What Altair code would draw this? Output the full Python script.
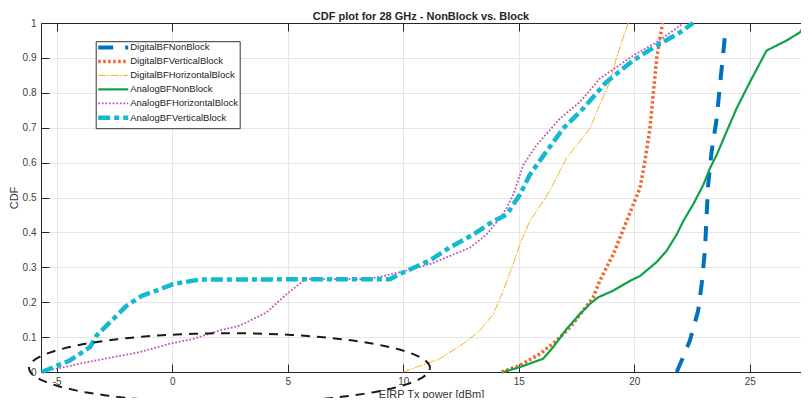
import altair as alt
import pandas as pd

series = ["DigitalBFNonBlock", "DigitalBFVerticalBlock", "DigitalBFHorizontalBlock",
          "AnalogBFNonBlock", "AnalogBFHorizontalBlock", "AnalogBFVerticalBlock"]
colors = ["#0072BD", "#F26430", "#F7B022", "#0FA24A", "#C256B6", "#12B9CF"]
dashes = [[15, 12], [2.5, 2.5], [8, 1.5, 1.5, 1.5], [1, 0], [1.8, 1.8], [12, 4, 5, 4]]
widths = [4, 3.5, 1, 2.2, 1.8, 4.5]

dbf_nonblock_x = [21.84, 22.1, 22.41, 22.77, 22.92, 23.06, 23.13, 23.2, 23.35, 23.57, 23.71, 23.86, 23.95]
dbf_nonblock_y = [0.0, 0.04, 0.09, 0.176, 0.252, 0.347, 0.442, 0.536, 0.632, 0.726, 0.821, 0.917, 0.98]

dbf_vert_x = [14.26, 15.05, 15.92, 16.64, 17.22, 17.79, 18.23, 18.5, 19.09, 19.5, 19.96, 20.25,
              20.46, 20.68, 20.82, 20.97, 21.11, 21.23]
dbf_vert_y = [0.0, 0.019, 0.052, 0.09, 0.128, 0.176, 0.214, 0.26, 0.337, 0.404, 0.48, 0.527,
              0.603, 0.698, 0.793, 0.897, 0.954, 1.0]

dbf_horiz_x = [10.0, 11.59, 12.6, 13.32, 13.9, 14.33, 14.76, 15.05, 15.48, 16.06, 16.35, 17.07,
               18.08, 18.5, 18.94, 19.22, 19.5, 19.74]
dbf_horiz_y = [0.0, 0.038, 0.081, 0.119, 0.166, 0.233, 0.309, 0.366, 0.432, 0.489, 0.52, 0.613,
               0.698, 0.764, 0.831, 0.897, 0.954, 1.0]

abf_nonblock_x = [14.33, 15.05, 16.06, 16.49, 17.07, 17.65, 18.08, 18.44, 19.09, 19.81, 20.25,
                  20.97, 21.4, 21.84, 22.12, 22.55, 22.99, 23.28, 23.57, 24.0, 24.43, 25.01,
                  25.73, 26.6, 27.17, 27.46]
abf_nonblock_y = [0.0, 0.014, 0.038, 0.071, 0.123, 0.166, 0.195, 0.214, 0.233, 0.261, 0.275,
                  0.315, 0.347, 0.394, 0.432, 0.48, 0.536, 0.584, 0.622, 0.689, 0.755, 0.831,
                  0.921, 0.95, 0.973, 1.0]

abf_horiz_x = [-5.65, -3.7, -1.4, -0.1, 0.91, 2.06, 2.93, 4.09, 4.95, 5.67, 5.82, 8.42, 9.13,
               10.0, 11.16, 12.0, 12.89, 13.61, 14.19, 14.48, 14.76, 15.2, 15.77, 16.78, 17.65,
               18.5, 19.96, 20.97, 21.98, 22.12]
abf_horiz_y = [0.0, 0.028, 0.057, 0.081, 0.095, 0.119, 0.133, 0.171, 0.223, 0.261, 0.266, 0.266,
               0.275, 0.288, 0.309, 0.332, 0.356, 0.394, 0.442, 0.47, 0.508, 0.593, 0.65, 0.726,
               0.774, 0.84, 0.907, 0.945, 0.992, 1.0]

abf_vert_x = [-5.65, -4.43, -3.56, -3.27, -1.97, -1.32, -0.53, 0.04, 1.2, 9.42, 10.0, 11.16,
              12.0, 13.03, 13.9, 14.48, 15.05, 15.48, 16.2, 16.93, 17.79, 18.8, 19.96, 20.97,
              21.98, 22.55]
abf_vert_y = [0.0, 0.033, 0.071, 0.105, 0.19, 0.218, 0.237, 0.252, 0.265, 0.266, 0.285, 0.32,
              0.356, 0.394, 0.432, 0.451, 0.508, 0.565, 0.632, 0.698, 0.755, 0.831, 0.893,
              0.935, 0.973, 1.0]

x_ticks = [-5, 0, 5, 10, 15, 20, 25]
y_ticks = [0, 0.1, 0.2, 0.3, 0.4, 0.5, 0.6, 0.7, 0.8, 0.9, 1]

# annotation ellipse (center / radii in data units)
ell_cx, ell_cy, ell_rx, ell_ry = 2.48, 0.0114, 8.68, 0.0997

all_x = [dbf_nonblock_x, dbf_vert_x, dbf_horiz_x, abf_nonblock_x, abf_horiz_x, abf_vert_x]
all_y = [dbf_nonblock_y, dbf_vert_y, dbf_horiz_y, abf_nonblock_y, abf_horiz_y, abf_vert_y]
rows = []
for name, xs, ys in zip(series, all_x, all_y):
    for i, (xv, yv) in enumerate(zip(xs, ys)):
        rows.append({"series": name, "x": xv, "y": yv, "idx": i})
df = pd.DataFrame(rows)

FONT = "Liberation Sans"
AXC = "#262626"
sx = alt.Scale(domain=[-5.68, 27.22], nice=False, zero=False)
sy = alt.Scale(domain=[0, 1], nice=False, zero=False)

legend = alt.Legend(orient="none", legendX=54.7, legendY=18.2, title=None,
                    symbolType="M-6,0H6", symbolSize=25, symbolOffset=11,
                    labelFont=FONT, labelFontSize=9.5, labelColor="#222222", labelOffset=12,
                    strokeColor="#333333", fillColor="white", padding=1.5,
                    gridAlign="all", rowPadding=-8.2)

main_x_axis = alt.Axis(values=x_ticks, labelExpr="'' + datum.value", title="EIRP Tx power [dBm]",
                       grid=True, gridColor="#e6e6e6", ticks=False, domain=True, domainColor=AXC,
                       labelPadding=4, labelFontSize=10, labelColor="#404040", labelFont=FONT,
                       titleFont=FONT, titleFontSize=11, titleFontWeight="normal",
                       titleColor="#333333", titleBaseline="alphabetic", titleX=390, titleY=25)
main_y_axis = alt.Axis(values=y_ticks, format="~g", title="CDF", grid=True, gridColor="#e6e6e6",
                       ticks=False, domain=True, domainColor=AXC, labelPadding=5, labelFontSize=10,
                       labelColor="#404040", labelFont=FONT, titleFont=FONT, titleFontSize=11,
                       titleFontWeight="normal", titleColor="#333333", titlePadding=3)

lines = alt.Chart(df).mark_line(strokeCap="butt", strokeJoin="round").encode(
    x=alt.X("x:Q", scale=sx, axis=main_x_axis),
    y=alt.Y("y:Q", scale=sy, axis=main_y_axis),
    color=alt.Color("series:N", scale=alt.Scale(domain=series, range=colors), legend=legend),
    strokeDash=alt.StrokeDash("series:N", scale=alt.Scale(domain=series, range=dashes), legend=legend),
    strokeWidth=alt.StrokeWidth("series:N",
                                scale=alt.Scale(type="ordinal", domain=series, range=widths),
                                legend=legend),
    order="idx:Q",
)


def tick_axis(orient, vals):
    return alt.Axis(orient=orient, values=vals, labels=False, domain=False, grid=False, ticks=True,
                    tickSize=8, offset=-8, title=None, tickColor=AXC, tickWidth=1,
                    minExtent=0, maxExtent=0)


ellipse = alt.Chart(alt.sequence(0, 361, 4, as_="t")).transform_calculate(
    ex=f"{ell_cx} + {ell_rx} * cos(datum.t * PI / 180)",
    ey=f"{ell_cy} + {ell_ry} * sin(datum.t * PI / 180)",
).mark_line(color="#1a1a1a", strokeWidth=2, strokeDash=[9, 7]).encode(
    x=alt.X("ex:Q", scale=sx, axis=tick_axis("bottom", x_ticks)),
    y=alt.Y("ey:Q", scale=sy, axis=tick_axis("left", y_ticks)),
    order="t:Q",
)

top_ticks = alt.Chart(df).mark_point(opacity=0).encode(
    x=alt.X("x:Q", scale=sx, axis=tick_axis("top", x_ticks)),
    y=alt.Y("y:Q", scale=sy, axis=None),
)

top_border = alt.Chart(df).mark_point(opacity=0).encode(
    x=alt.X("x:Q", scale=sx, axis=alt.Axis(orient="top", values=x_ticks, labels=False, ticks=False,
                                           grid=False, domain=True, domainColor=AXC, title=None,
                                           minExtent=0, maxExtent=0)),
    y=alt.Y("y:Q", scale=sy, axis=None),
)

chart = alt.layer(lines, ellipse, top_ticks, top_border).resolve_axis(
    x="independent", y="independent"
).properties(
    width=760, height=349,
    padding={"left": 33, "top": 15, "right": 0, "bottom": 26},
    autosize=alt.AutoSizeParams(type="none"),
    title=alt.Title("CDF plot for 28 GHz - NonBlock vs. Block", font=FONT, fontSize=11,
                    fontWeight="bold", color="#262626", anchor="middle", offset=-3.5),
).configure_view(stroke=None)

chart.save("out.html", embed_options={"renderer": "svg", "actions": False})
